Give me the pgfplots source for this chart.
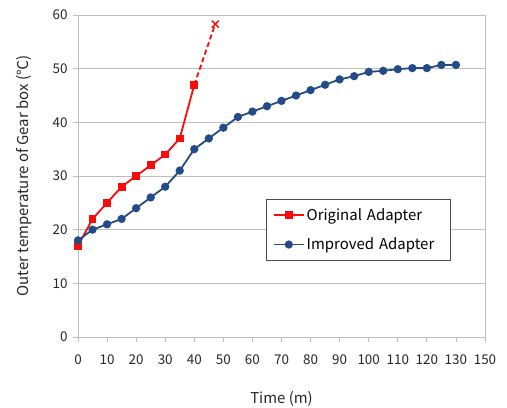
\documentclass[border=0pt]{standalone}
\usepackage{fontspec}
\setmainfont{Noto Sans CJK KR}
\usepackage{pgfplots}
\pgfplotsset{compat=1.18}
\usetikzlibrary{calc}

\definecolor{origred}{RGB}{250,10,10}
\definecolor{impblue}{RGB}{35,75,135}
\definecolor{gridgray}{RGB}{190,190,190}

\begin{document}
\begin{tikzpicture}
\begin{axis}[
  name=ax,
  scale only axis,
  width=407bp, height=322bp,
  xmin=0, xmax=140, ymin=0, ymax=60,
  xtick={0,10,...,140},
  xticklabels={0,10,20,30,40,50,60,70,80,90,100,110,120,130,150},
  ytick={0,10,...,60},
  ymajorgrids,
  grid style={gridgray, line width=0.8pt},
  axis line style={gridgray, line width=0.8pt},
  tick style={gridgray, line width=0.8pt},
  tick align=outside,
  major tick length=5bp,
  xtick pos=bottom, ytick pos=left,
  /pgf/number format/assume math mode=true,
  tick label style={font=\fontsize{13.5}{15}\selectfont, text=black!85},
  xticklabel style={yshift=-9bp},
  yticklabel style={xshift=-2bp},
  xlabel={Time (m)},
  ylabel={Outer temperature of Gear box (℃)},
  label style={font=\fontsize{15}{17}\selectfont, text=black!85},
  xlabel style={yshift=-20bp},
  ylabel style={yshift=14bp},
  legend style={at={(axis cs:64.5,25.7)}, anchor=north west,
    draw=black!70, line width=0.8pt,
    font=\fontsize{15}{17}\selectfont,
    inner xsep=7bp, inner ysep=7bp,
    row sep=12bp,
    nodes={text width=135bp}},
  legend cell align=left,
  legend image code/.code={
    \draw[#1, line width=1.8pt] (0bp,0bp) -- (30bp,0bp);
    \draw[#1, only marks] plot coordinates {(15bp,0bp)};
  },
]
\addplot[origred, line width=1.8pt, mark=square*, mark size=3bp, mark options={solid}]
  coordinates {(0,17) (5,22) (10,25) (15,28) (20,30) (25,32) (30,34) (35,37) (40,47)};
\addlegendentry{Original Adapter}
\addplot[impblue, line width=1.8pt, mark=*, mark size=3.2bp]
  coordinates {(0,18) (5,20) (10,21) (15,22) (20,24) (25,26) (30,28) (35,31) (40,35)
  (45,37) (50,39) (55,41) (60,42) (65,43) (70,44) (75,45) (80,46) (85,47) (90,48)
  (95,48.6) (100,49.4) (105,49.6) (110,49.9) (115,50.1) (120,50.1) (125,50.7) (130,50.7)};
\addlegendentry{Improved Adapter}
\addplot[origred, line width=1.8pt, dash pattern=on 5bp off 3bp, forget plot]
  coordinates {(40,47) (47.2,58.3)};
\addplot[origred, only marks, mark=x, mark size=5bp, line width=1.4pt, forget plot]
  coordinates {(47.2,58.3)};
\end{axis}
\pgfresetboundingbox
\path ($(ax.south west)+(-78bp,-71bp)$) rectangle ($(ax.north east)+(22bp,15bp)$);
\end{tikzpicture}
\end{document}
